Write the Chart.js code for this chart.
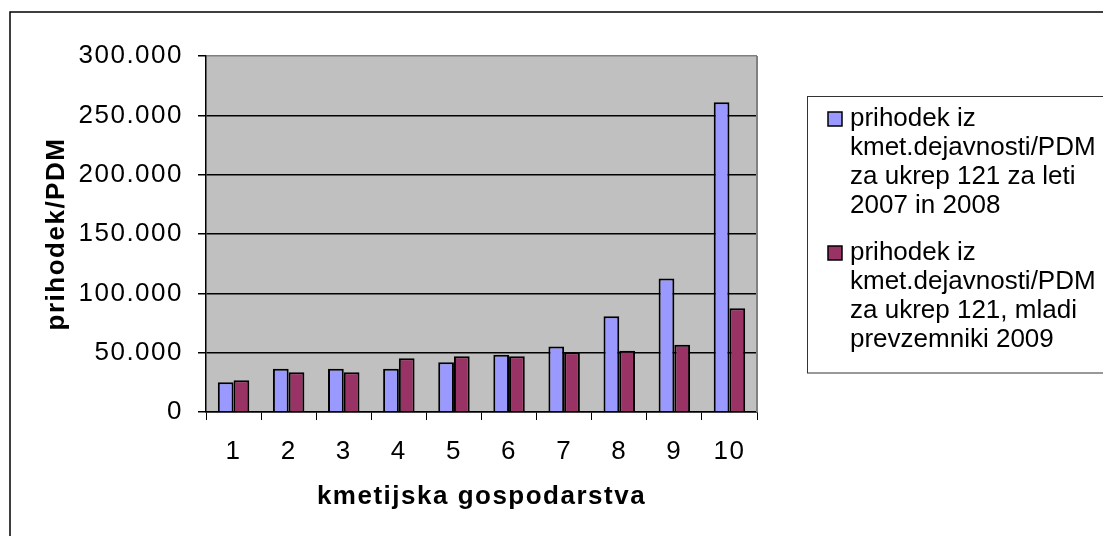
<!DOCTYPE html>
<html>
<head>
<meta charset="utf-8">
<script src="https://cdn.jsdelivr.net/npm/chart.js@4"></script>
<style>
  html, body { margin: 0; padding: 0; background: #fff; }
  canvas { display: block; }
</style>
</head>
<body>
<canvas id="graf" width="1103" height="536"></canvas>
<script>
const kmetije = ['1', '2', '3', '4', '5', '6', '7', '8', '9', '10'];
const prihodek0708 = [25000, 36500, 36500, 36500, 42000, 48300, 55300, 80600, 112400, 261000];
const prihodekMladi = [26700, 33400, 33400, 45200, 46900, 46900, 50300, 51700, 56700, 87400];
const legenda0708 = ['prihodek iz', 'kmet.dejavnosti/PDM', 'za ukrep 121 za leti', '2007 in 2008'];
const legendaMladi = ['prihodek iz', 'kmet.dejavnosti/PDM', 'za ukrep 121, mladi', 'prevzemniki 2009'];

const MODRA = '#9999ff';
const BORDO = '#993366';
const FONT = "'Liberation Sans', Arial, sans-serif";

const tisoc = v => String(v).replace(/\B(?=(\d{3})+(?!\d))/g, '.');

// ozadje grafa, okvir in legenda
const okvir = {
  id: 'okvir',
  beforeDraw(chart) {
    const { ctx, chartArea: a } = chart;
    ctx.save();
    ctx.fillStyle = '#c0c0c0';
    ctx.fillRect(a.left, a.top, a.right - a.left, a.bottom - a.top);
    ctx.restore();
    ctx.letterSpacing = '1.5px';
  },
  beforeDatasetsDraw(chart) {
    const { ctx, chartArea: a } = chart;
    ctx.letterSpacing = '0px';
    ctx.save();
    ctx.strokeStyle = '#808080';
    ctx.lineWidth = 2;
    ctx.beginPath();
    ctx.moveTo(a.right, a.top);
    ctx.lineTo(a.right, a.bottom);
    ctx.stroke();
    ctx.restore();
  },
  afterDraw(chart) {
    const { ctx } = chart;
    ctx.save();
    ctx.letterSpacing = '0px';
    ctx.strokeStyle = '#000';
    ctx.lineWidth = 1.5;
    ctx.strokeRect(10, 12, 1200, 600);

    ctx.lineWidth = 1;
    ctx.strokeStyle = '#333';
    ctx.strokeRect(807.5, 96.5, 400, 276.5);

    const vnosi = [
      { barva: MODRA, vrstice: legenda0708, y: 119 },
      { barva: BORDO, vrstice: legendaMladi, y: 253 }
    ];
    ctx.font = '26px ' + FONT;
    ctx.textBaseline = 'middle';
    for (const v of vnosi) {
      ctx.fillStyle = v.barva;
      ctx.fillRect(828, v.y - 7, 14, 14);
      ctx.strokeStyle = '#000';
      ctx.lineWidth = 1.5;
      ctx.strokeRect(828, v.y - 7, 14, 14);
      ctx.fillStyle = '#000';
      v.vrstice.forEach((t, i) => ctx.fillText(t, 850, v.y + i * 29));
    }
    ctx.restore();
  }
};

new Chart(document.getElementById('graf'), {
  type: 'bar',
  data: {
    labels: kmetije,
    datasets: [
      {
        label: legenda0708.join(' '),
        data: prihodek0708,
        backgroundColor: MODRA,
        borderColor: '#000',
        borderWidth: 2,
        categoryPercentage: 0.571,
        barPercentage: 1
      },
      {
        label: legendaMladi.join(' '),
        data: prihodekMladi,
        backgroundColor: BORDO,
        borderColor: '#000',
        borderWidth: 2,
        categoryPercentage: 0.571,
        barPercentage: 1
      }
    ]
  },
  options: {
    responsive: false,
    animation: false,
    devicePixelRatio: 1,
    layout: { padding: { left: 10, top: 56, right: 346, bottom: 0 } },
    plugins: { legend: { display: false }, tooltip: { enabled: false } },
    scales: {
      x: {
        grid: { display: true, drawOnChartArea: false, drawTicks: true, tickLength: 8, offset: true, color: '#000' },
        border: { color: '#000', width: 1.5 },
        ticks: { font: { family: FONT, size: 26 }, color: '#000', padding: 16, maxRotation: 0 },
        title: {
          display: true,
          text: 'kmetijska gospodarstva',
          font: { family: FONT, size: 26, weight: 'bold' },
          color: '#000',
          padding: { top: 0, bottom: 24 }
        },
        afterFit: s => { s.height = 124; }
      },
      y: {
        min: 0,
        max: 300000,
        grid: {
          color: c => (c.tick && c.tick.value === 300000) ? '#808080' : '#000',
          tickColor: '#000',
          tickLength: 8,
          lineWidth: 1.5
        },
        border: { color: '#000', width: 1.5 },
        ticks: {
          stepSize: 50000,
          font: { family: FONT, size: 26 },
          color: '#000',
          padding: 15,
          callback: v => tisoc(v)
        },
        title: {
          display: true,
          text: 'prihodek/PDM',
          font: { family: FONT, size: 26, weight: 'bold' },
          color: '#000',
          padding: { top: 31, bottom: 0 }
        },
        afterFit: s => { s.width = 196; }
      }
    }
  },
  plugins: [okvir]
});
</script>
</body>
</html>
